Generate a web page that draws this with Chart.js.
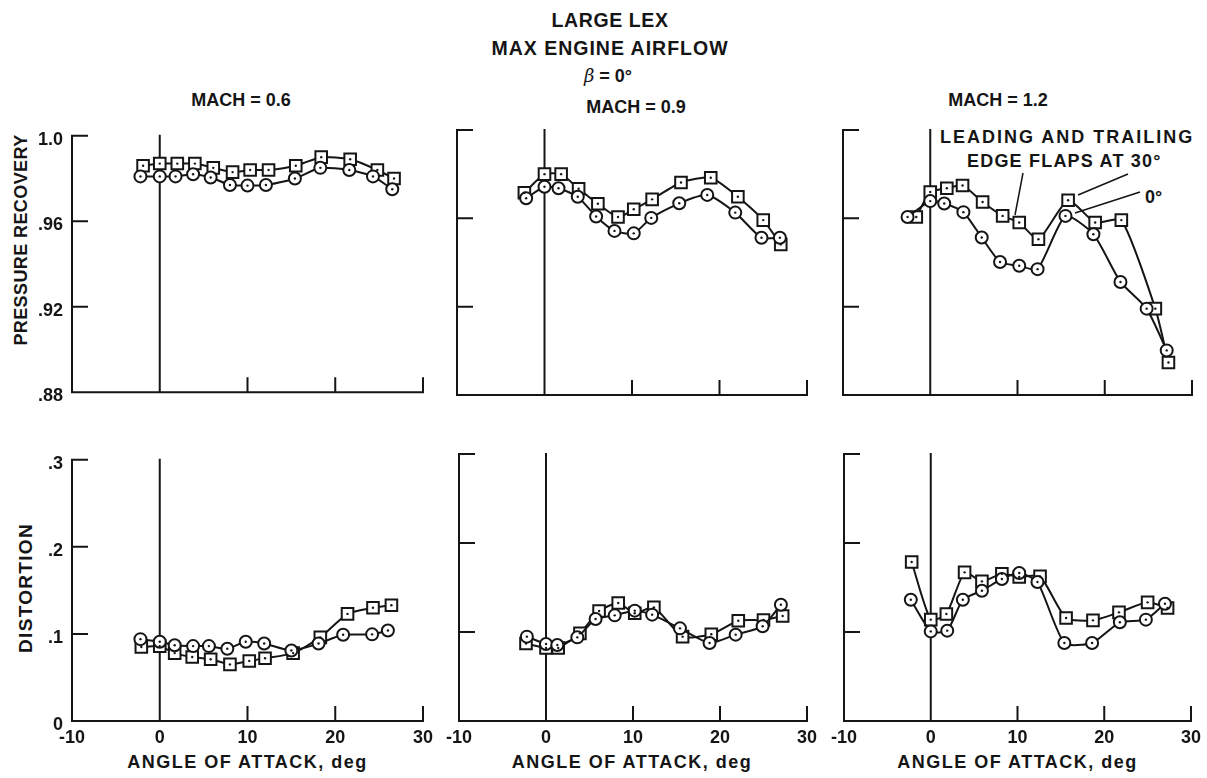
<!DOCTYPE html>
<html>
<head>
<meta charset="utf-8">
<script src="https://cdn.jsdelivr.net/npm/chart.js@4.4.0/dist/chart.umd.min.js"></script>
<style>
  body { margin: 0; background: #fff; width: 1207px; height: 778px; position: relative; overflow: hidden;
         font-family: "Liberation Sans", Arial, sans-serif; font-weight: bold; color: #151515; }
  .txt { position: absolute; white-space: nowrap; line-height: 1; }
  .mid { transform: translateX(-50%); }
  .vert { transform: translate(-50%, -50%) rotate(-90deg); }
  .panel { position: absolute; }
</style>
</head>
<body>
<div class="txt mid" style="left:610px;top:10.5px;font-size:19.5px;letter-spacing:0.6px">LARGE LEX</div>
<div class="txt mid" style="left:610px;top:38.5px;font-size:19.5px;letter-spacing:1px">MAX ENGINE AIRFLOW</div>
<div class="txt mid" style="left:608px;top:66.8px;font-size:18px"><i style="font-weight:normal;font-family:'DejaVu Serif',serif">β</i> = 0°</div>
<div class="txt mid" style="left:241px;top:90.8px;font-size:18px">MACH = 0.6</div>
<div class="txt mid" style="left:636px;top:97.8px;font-size:18px">MACH = 0.9</div>
<div class="txt mid" style="left:998px;top:90.8px;font-size:18px">MACH = 1.2</div>
<div class="txt" style="left:940px;top:127.8px;font-size:18px;letter-spacing:2px">LEADING AND TRAILING</div>
<div class="txt" style="left:967px;top:151.8px;font-size:18px;letter-spacing:1.2px">EDGE FLAPS AT 30°</div>
<div class="txt" style="left:1145px;top:187.8px;font-size:18px">0°</div>
<div class="txt vert" style="left:20.5px;top:240px;font-size:18px;letter-spacing:0.4px">PRESSURE RECOVERY</div>
<div class="txt vert" style="left:24.5px;top:588px;font-size:19px;letter-spacing:1.3px">DISTORTION</div>
<div class="txt mid" style="left:247.5px;top:752.8px;font-size:18px;letter-spacing:1.5px">ANGLE OF ATTACK, deg</div>
<div class="txt mid" style="left:632px;top:752.8px;font-size:18px;letter-spacing:1.5px">ANGLE OF ATTACK, deg</div>
<div class="txt mid" style="left:1017.5px;top:752.8px;font-size:18px;letter-spacing:1.5px">ANGLE OF ATTACK, deg</div>

<script>
// angle of attack axis
const angleTicks = [-10, 0, 10, 20, 30];
const angleTickLabels = ["-10", "0", "10", "20", "30"];
// pressure recovery axis
const prTicks = [0.88, 0.92, 0.96, 1.0];
const prTickLabels = [".88", ".92", ".96", "1.0"];
// distortion axis
const distTicks = [0, 0.1, 0.2, 0.3];
const distTickLabels = ["0", ".1", ".2", ".3"];

// MACH = 0.6  (squares: flaps at 30 deg, circles: flaps at 0 deg)
const pr06Flap30Alpha = [-1.9, 0, 2.0, 4.0, 6.1, 8.3, 10.3, 12.4, 15.5, 18.4, 21.7, 24.8, 26.7];
const pr06Flap30 = [0.986, 0.987, 0.987, 0.987, 0.985, 0.983, 0.984, 0.984, 0.986, 0.990, 0.989, 0.984, 0.980];
const pr06Flap0Alpha = [-2.2, 0, 1.8, 3.8, 5.8, 8.0, 10.0, 12.1, 15.4, 18.3, 21.6, 24.3, 26.5];
const pr06Flap0 = [0.981, 0.981, 0.981, 0.982, 0.9805, 0.977, 0.9767, 0.977, 0.980, 0.985, 0.984, 0.981, 0.975];
const dist06Flap30Alpha = [-2.1, 0, 1.7, 3.7, 5.8, 8.0, 10.2, 12.0, 15.2, 18.3, 21.4, 24.3, 26.4];
const dist06Flap30 = [0.085, 0.086, 0.078, 0.0735, 0.071, 0.065, 0.069, 0.072, 0.078, 0.096, 0.123, 0.130, 0.133];
const dist06Flap0Alpha = [-2.2, 0, 1.7, 3.8, 5.6, 7.7, 9.8, 11.9, 15.0, 18.1, 20.9, 24.2, 26.0];
const dist06Flap0 = [0.094, 0.091, 0.087, 0.086, 0.086, 0.083, 0.091, 0.089, 0.081, 0.089, 0.099, 0.0995, 0.104];

// MACH = 0.9
const pr09Flap30Alpha = [-2.3, 0, 1.9, 3.9, 6.1, 8.4, 10.2, 12.3, 15.6, 19.0, 22.1, 25.0, 27.0];
const pr09Flap30 = [0.9716, 0.980, 0.980, 0.9734, 0.9666, 0.9606, 0.9641, 0.9686, 0.9762, 0.9784, 0.9698, 0.9592, 0.9482];
const pr09Flap0Alpha = [-2.1, 0, 1.6, 3.8, 5.9, 8.0, 10.2, 12.2, 15.4, 18.6, 21.8, 24.8, 26.9];
const pr09Flap0 = [0.9691, 0.9743, 0.9736, 0.9698, 0.9608, 0.9543, 0.9532, 0.9602, 0.9668, 0.9706, 0.9626, 0.9512, 0.9512];
const dist09Flap30Alpha = [-2.3, 0, 1.4, 3.9, 6.1, 8.3, 10.2, 12.4, 15.7, 19.0, 22.1, 25.0, 27.2];
const dist09Flap30 = [0.087, 0.082, 0.082, 0.0985, 0.1236, 0.1326, 0.121, 0.1277, 0.0948, 0.0974, 0.1127, 0.1135, 0.118];
const dist09Flap0Alpha = [-2.2, 0, 1.3, 3.6, 5.7, 7.9, 10.2, 12.2, 15.4, 18.8, 21.8, 24.9, 27.0];
const dist09Flap0 = [0.0948, 0.0865, 0.0854, 0.094, 0.1146, 0.1187, 0.124, 0.1195, 0.1041, 0.0876, 0.097, 0.1064, 0.1307];

// MACH = 1.2
const pr12Flap30Alpha = [-1.6, 0, 1.9, 3.7, 6.0, 8.3, 10.2, 12.4, 15.8, 18.9, 21.9, 25.8, 27.3];
const pr12Flap30 = [0.9606, 0.9719, 0.9736, 0.9749, 0.9674, 0.9611, 0.9581, 0.9505, 0.9682, 0.9581, 0.9592, 0.9191, 0.8947];
const pr12Flap0Alpha = [-2.6, 0, 1.6, 3.8, 5.9, 8.0, 10.2, 12.3, 15.5, 18.7, 21.8, 24.8, 27.1];
const pr12Flap0 = [0.9606, 0.9678, 0.9667, 0.9628, 0.9513, 0.9402, 0.9385, 0.937, 0.9611, 0.9528, 0.9312, 0.9191, 0.9002];
const dist12Flap30Alpha = [-2.2, 0, 1.8, 3.9, 5.9, 8.2, 10.2, 12.6, 15.6, 18.7, 21.7, 25.0, 27.3];
const dist12Flap30 = [0.1787, 0.1139, 0.1202, 0.167, 0.1569, 0.1655, 0.1618, 0.1625, 0.1157, 0.1131, 0.1221, 0.1333, 0.127];
const dist12Flap0Alpha = [-2.3, 0, 1.9, 3.7, 5.9, 8.2, 10.2, 12.3, 15.4, 18.6, 21.8, 24.8, 27.0];
const dist12Flap0 = [0.1363, 0.1007, 0.1015, 0.1363, 0.1464, 0.1596, 0.1663, 0.1562, 0.0876, 0.0876, 0.1109, 0.1139, 0.1318];

const INK = "#151515";
const tickFont = { family: "'Liberation Sans', Arial, sans-serif", size: 18, weight: "bold" };

// page geometry of the six plot boxes
const COLS = [
  { left: 72, right: 423, cLeft: 30, cRight: 440 },
  { left: 457, right: 807, cLeft: 440, cRight: 825 },
  { left: 843, right: 1192, cLeft: 825, cRight: 1207 }
];
const ROWS = [
  { top: 130, bottom: 395, cTop: 116, cBottom: 412 },
  { top: 454, bottom: 721, cTop: 440, cBottom: 750 }
];

// axes drawn like the original: left + bottom lines, ticks pointing inward, alpha = 0 line
const framePlugin = {
  id: "frame",
  beforeDatasetsDraw(chart) {
    const { ctx, chartArea: a, scales: { x, y } } = chart;
    ctx.save();
    ctx.strokeStyle = INK;
    ctx.lineWidth = 2;
    ctx.lineCap = "square";
    ctx.beginPath();
    ctx.moveTo(a.left, a.top);
    ctx.lineTo(a.left, a.bottom);
    ctx.lineTo(a.right, a.bottom);
    y.ticks.forEach(t => {
      if (t.value === y.min) return;
      const py = y.getPixelForValue(t.value);
      ctx.moveTo(a.left, py);
      ctx.lineTo(a.left + 15, py);
    });
    x.ticks.forEach(t => {
      if (t.value <= 0) return;
      const px = x.getPixelForValue(t.value);
      ctx.moveTo(px, a.bottom);
      ctx.lineTo(px, a.bottom - 14);
    });
    const zx = x.getPixelForValue(0);
    ctx.moveTo(zx, a.top);
    ctx.lineTo(zx, a.bottom);
    ctx.stroke();
    ctx.restore();
  },
  afterDatasetsDraw(chart) {
    // small dot in the middle of each symbol
    const ctx = chart.ctx;
    ctx.save();
    ctx.fillStyle = INK;
    chart.data.datasets.forEach((ds, i) => {
      chart.getDatasetMeta(i).data.forEach(pt => {
        ctx.beginPath();
        ctx.arc(pt.x, pt.y, 1.2, 0, Math.PI * 2);
        ctx.fill();
      });
    });
    ctx.restore();
  }
};

// leader lines for the MACH 1.2 key
const leaderPlugin = {
  id: "leaders",
  afterDraw(chart) {
    const ctx = chart.ctx;
    ctx.save();
    ctx.strokeStyle = INK;
    ctx.lineWidth = 1.5;
    ctx.beginPath();
    ctx.moveTo(198, 57); ctx.lineTo(190, 99);
    ctx.moveTo(303, 58); ctx.lineTo(253, 79);
    ctx.moveTo(315, 76); ctx.lineTo(250, 97);
    ctx.stroke();
    ctx.restore();
  }
};

function series(alpha, vals, style, radius) {
  return {
    data: alpha.map((a, i) => ({ x: a, y: vals[i] })),
    borderColor: INK,
    borderWidth: 2,
    tension: 0.2,
    fill: false,
    clip: false,
    pointStyle: style,
    pointRadius: radius,
    pointBackgroundColor: "#fff",
    pointBorderColor: INK,
    pointBorderWidth: 2
  };
}

function makePanel(col, row, f0Alpha, f0Vals, f30Alpha, f30Vals, extra) {
  const C = COLS[col], R = ROWS[row];
  const w = C.cRight - C.cLeft, h = R.cBottom - R.cTop;
  const pl = C.left - C.cLeft, pr = C.cRight - C.right;
  const pt = R.top - R.cTop, pb = R.cBottom - R.bottom;

  const div = document.createElement("div");
  div.className = "panel";
  div.style.left = C.cLeft + "px";
  div.style.top = R.cTop + "px";
  const canvas = document.createElement("canvas");
  canvas.width = w; canvas.height = h;
  canvas.style.width = w + "px"; canvas.style.height = h + "px";
  div.appendChild(canvas);
  document.body.appendChild(div);

  const yTicks = row === 0 ? prTicks : distTicks;
  const yLabels = row === 0 ? prTickLabels : distTickLabels;

  new Chart(canvas, {
    type: "line",
    data: { datasets: [series(f0Alpha, f0Vals, "circle", 6), series(f30Alpha, f30Vals, "rect", 8.2)] },
    options: {
      responsive: false,
      animation: false,
      devicePixelRatio: 1,
      events: [],
      layout: { padding: { left: 0, top: pt, right: pr, bottom: 0 } },
      plugins: { legend: { display: false }, tooltip: { enabled: false } },
      scales: {
        x: {
          type: "linear", min: -10, max: 30,
          grid: { display: false, drawTicks: false },
          border: { display: false },
          afterBuildTicks: s => { s.ticks = angleTicks.map(v => ({ value: v })); },
          afterFit: s => { s.height = pb; },
          ticks: {
            display: row === 1, padding: 6, color: INK, font: tickFont,
            maxRotation: 0, autoSkip: false,
            callback: v => angleTickLabels[angleTicks.indexOf(v)]
          }
        },
        y: {
          type: "linear", min: yTicks[0], max: yTicks[yTicks.length - 1],
          grid: { display: false, drawTicks: false },
          border: { display: false },
          afterBuildTicks: s => { s.ticks = yTicks.map(v => ({ value: v })); },
          afterFit: s => { s.width = pl; },
          ticks: {
            display: col === 0, padding: 9, labelOffset: 4, color: INK, font: tickFont,
            callback: v => yLabels[yTicks.indexOf(v)]
          }
        }
      }
    },
    plugins: [framePlugin].concat(extra || [])
  });
}

makePanel(0, 0, pr06Flap0Alpha, pr06Flap0, pr06Flap30Alpha, pr06Flap30);
makePanel(1, 0, pr09Flap0Alpha, pr09Flap0, pr09Flap30Alpha, pr09Flap30);
makePanel(2, 0, pr12Flap0Alpha, pr12Flap0, pr12Flap30Alpha, pr12Flap30, [leaderPlugin]);
makePanel(0, 1, dist06Flap0Alpha, dist06Flap0, dist06Flap30Alpha, dist06Flap30);
makePanel(1, 1, dist09Flap0Alpha, dist09Flap0, dist09Flap30Alpha, dist09Flap30);
makePanel(2, 1, dist12Flap0Alpha, dist12Flap0, dist12Flap30Alpha, dist12Flap30);
</script>
</body>
</html>
